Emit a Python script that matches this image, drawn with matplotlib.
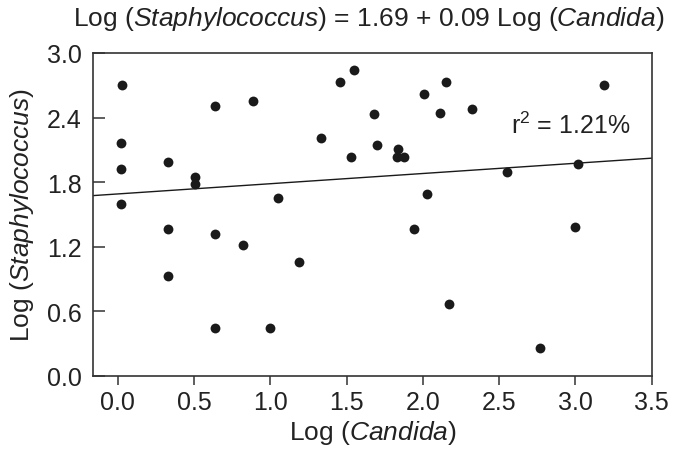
import matplotlib
matplotlib.use("Agg")
import matplotlib.pyplot as plt
import numpy as np

plt.rcParams['font.family'] = ['Liberation Sans', 'DejaVu Sans']
plt.rcParams['mathtext.fontset'] = 'custom'
plt.rcParams['mathtext.rm'] = 'Liberation Sans'
plt.rcParams['mathtext.it'] = 'Liberation Sans:italic'

# log(Candida) vs log(Staphylococcus)
log_candida = [0.026, 0.64, 0.89, 1.455, 1.55, 1.68, 0.024, 1.335, 1.70, 0.33,
               0.024, 1.527, 0.51, 0.51, 1.05, 0.024, 2.007, 2.15, 2.11, 2.32,
               3.19, 1.84, 1.83, 1.875, 2.55, 3.02, 2.03, 0.33, 0.64, 0.82,
               1.19, 0.33, 0.64, 1.0, 1.94, 3.0, 2.17, 2.77]
log_staph = [2.70, 2.51, 2.55, 2.73, 2.84, 2.43, 2.16, 2.21, 2.145, 1.99,
             1.92, 2.03, 1.85, 1.78, 1.65, 1.60, 2.62, 2.73, 2.44, 2.48,
             2.70, 2.11, 2.03, 2.03, 1.89, 1.97, 1.685, 1.366, 1.32, 1.22,
             1.06, 0.925, 0.44, 0.44, 1.36, 1.385, 0.667, 0.26]

intercept = 1.69
slope = 0.095

x_ticks = [0.0, 0.5, 1.0, 1.5, 2.0, 2.5, 3.0, 3.5]
y_ticks = [0.0, 0.6, 1.2, 1.8, 2.4, 3.0]

fig = plt.figure(figsize=(6.83, 4.56), dpi=100)
ax = fig.add_axes([0.1366, 0.1737, 0.8174, 0.7079])

ax.scatter(log_candida, log_staph, s=50, color='#1a1a1a', zorder=3, linewidths=0)

xl = np.array([-0.16, 3.5])
ax.plot(xl, intercept + slope * xl, color='#1a1a1a', lw=1.0)

ax.set_xlim(-0.16, 3.5)
ax.set_ylim(0, 3.0)
ax.set_xticks(x_ticks)
ax.set_xticklabels(['%.1f' % v for v in x_ticks])
ax.set_yticks(y_ticks)
ax.set_yticklabels(['%.1f' % v for v in y_ticks])

for sp in ax.spines.values():
    sp.set_color('#333333')
    sp.set_linewidth(1.2)

ax.tick_params(axis='x', direction='out', length=6.5, width=1.1, color='#333333',
               labelsize=18, pad=3.8, labelcolor='#222222')
ax.tick_params(axis='y', direction='in', length=8.4, width=1.1, color='#333333',
               labelsize=18, pad=8.4, labelcolor='#222222')

ax.set_xlabel('Log ($\\mathit{Candida}$)', fontsize=19, color='#222222', labelpad=3)
ax.set_ylabel('Log ($\\mathit{Staphylococcus}$)', fontsize=19, color='#222222', labelpad=8)

ax.text(2.58, 2.33, 'r$^{2}$ = 1.21%', fontsize=18, color='#222222', va='center')

fig.text(0.54, 1 - 19 / 456,
         'Log ($\\mathit{Staphylococcus}$) = 1.69 + 0.09 Log ($\\mathit{Candida}$)',
         ha='center', va='center', fontsize=19, color='#222222')

fig.savefig('out.png', dpi=100)
